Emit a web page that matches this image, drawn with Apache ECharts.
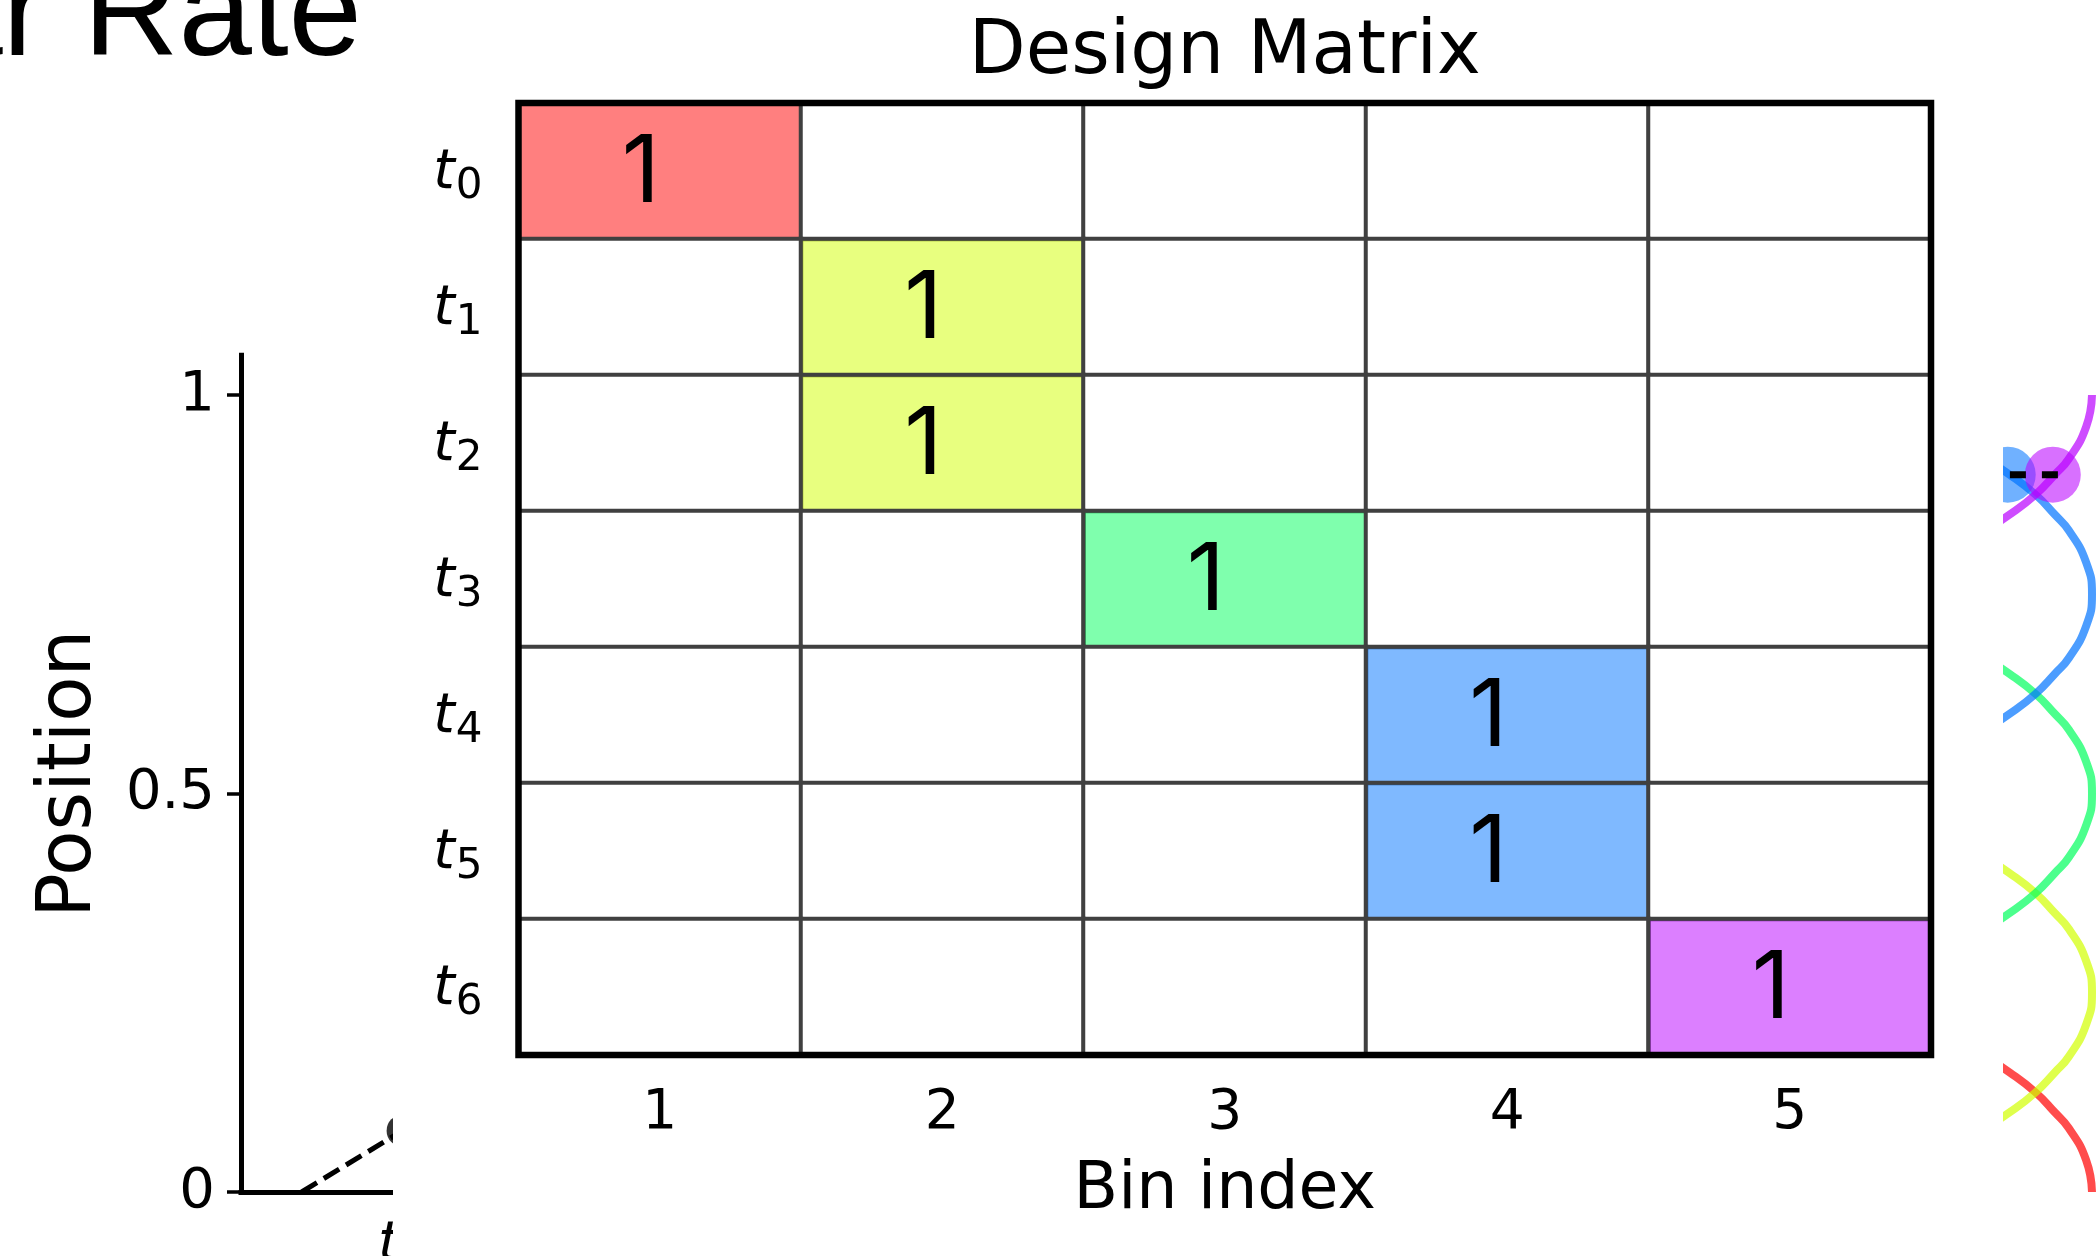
<!DOCTYPE html>
<html>
<head>
<meta charset="utf-8">
<style>
  html, body { margin: 0; padding: 0; background: #fff; }
  #chart { width: 2096px; height: 1256px; }
</style>
<script src="https://cdn.jsdelivr.net/npm/echarts@6/dist/echarts.min.js"></script>
</head>
<body>
<div id="chart"></div>
<script>
// ---- Design matrix: one row per sample time, one column per position bin ----
const binLabels = ['1', '2', '3', '4', '5'];
const timeLabels = ['0', '1', '2', '3', '4', '5', '6'];
const activeBin = [1, 2, 2, 3, 4, 4, 5];          // bin occupied at each sample time

// ---- Trajectory panel (position against time) ----
const trajectory = [[0.6, 0], [1.6, 0.077]];
const sampleTimes = [1.6];
const samplePositions = [0.077];
const positionTicks = [0, 0.5, 1];

// ---- Rate curves per bin, points as [rate, position] ----
const rateBin1 = [[1, 0], [0.985, 0.04], [0.941, 0.08], [0.905, 0.1], [0.856, 0.125], [0.79, 0.15], [0.64, 0.2]];
const rateBin2 = [[0.64, 0.05], [0.79, 0.1], [0.856, 0.125], [0.905, 0.15], [0.941, 0.17], [0.985, 0.21], [1, 0.25],
                  [0.985, 0.29], [0.941, 0.33], [0.905, 0.35], [0.856, 0.375], [0.79, 0.4], [0.64, 0.45]];
const rateBin3 = [[0.64, 0.3], [0.79, 0.35], [0.856, 0.375], [0.905, 0.4], [0.941, 0.42], [0.985, 0.46], [1, 0.5],
                  [0.985, 0.54], [0.941, 0.58], [0.905, 0.6], [0.856, 0.625], [0.79, 0.65], [0.64, 0.7]];
const rateBin4 = [[0.64, 0.55], [0.79, 0.6], [0.856, 0.625], [0.905, 0.65], [0.941, 0.67], [0.985, 0.71], [1, 0.75],
                  [0.985, 0.79], [0.941, 0.83], [0.905, 0.85], [0.856, 0.875], [0.79, 0.9], [0.64, 0.95]];
const rateBin5 = [[0.64, 0.8], [0.79, 0.85], [0.856, 0.875], [0.905, 0.9], [0.941, 0.92], [0.985, 0.96], [1, 1]];
const rateCurves = [rateBin1, rateBin2, rateBin3, rateBin4, rateBin5];

const currentPosition = 0.9;
const currentBins = [4, 5];
const currentRates = [0.785, 0.9];
const positionLine = [[0.913, 0.9], [0, 0.9]];

// ---- styling ----
const binRGB = ['255,0,0', '209,255,0', '0,255,92', '0,116,255', '185,0,255'];
const FONT = 'DejaVu Sans';
const HELV = 'Liberation Sans';
const CELL_FONT = 'Inter';
const tRich = {
  t: { fontFamily: FONT, fontStyle: 'italic', fontSize: 55, color: '#000', padding: [6, 0, 0, 0] },
  s: { fontFamily: FONT, fontSize: 42, color: '#000', padding: [32, 0, 0, 1] }
};

// build heatmap cells from the occupied bins
const matrixData = [];
timeLabels.forEach((t, ti) => {
  binLabels.forEach((b, bi) => {
    const v = activeBin[ti] === bi + 1 ? 1 : 0;
    matrixData.push({
      value: [bi, ti, v],
      itemStyle: { color: v ? 'rgba(' + binRGB[bi] + ',0.5)' : '#ffffff' },
      label: { show: v > 0 }
    });
  });
});

const chart = echarts.init(document.getElementById('chart'), null, { renderer: 'canvas' });

const curveSeries = rateCurves.map((pts, i) => ({
  type: 'line',
  xAxisIndex: 2, yAxisIndex: 2,
  data: pts,
  smooth: 0.5,
  showSymbol: false,
  silent: true,
  z: 2,
  lineStyle: { color: 'rgba(' + binRGB[i] + ',0.7)', width: 8 }
}));

const option = {
  animation: false,
  backgroundColor: '#fff',
  title: [
    {
      text: 'ar Rate',
      left: 362, top: -47, padding: 0,
      textAlign: 'right', textVerticalAlign: 'top',
      textStyle: { fontFamily: HELV, fontSize: 132, fontWeight: 'normal', color: '#000' }
    },
    {
      text: 'Design Matrix',
      left: 1224.75, top: 17, padding: 0, z: 20,
      textAlign: 'center', textVerticalAlign: 'top',
      textStyle: { fontFamily: FONT, fontSize: 74, fontWeight: 'normal', color: '#000' }
    }
  ],
  graphic: {
    elements: [
      { type: 'rect', silent: true, z: 5,
        shape: { x: 393, y: 0, width: 1610, height: 1256 },
        style: { fill: '#ffffff' } }
    ]
  },
  grid: [
    { left: 518.5, top: 103, width: 1412.5, height: 952, show: true, z: 14,
      borderColor: '#000', borderWidth: 6.5, backgroundColor: 'rgba(0,0,0,0)', outerBoundsMode: 'none' },
    { left: 241, top: 355.15, width: 808, height: 836.85, outerBoundsMode: 'none' },
    { left: 1700, top: 395, width: 392, height: 797, outerBoundsMode: 'none' }
  ],
  xAxis: [
    {
      gridIndex: 0, type: 'category', data: binLabels, z: 12,
      axisLine: { show: false },
      axisTick: { alignWithLabel: true, length: 15, lineStyle: { color: '#000', width: 3 } },
      axisLabel: { fontFamily: FONT, fontSize: 55, color: '#000', margin: 31 },
      splitLine: { show: false },
      name: 'Bin index', nameLocation: 'middle', nameGap: 104,
      nameTextStyle: { fontFamily: FONT, fontSize: 65, color: '#000' }
    },
    {
      gridIndex: 1, type: 'value', min: 0, max: 8,
      axisLine: { show: true, lineStyle: { color: '#000', width: 5, cap: 'square' } },
      axisTick: { show: true, customValues: sampleTimes, length: 14, lineStyle: { color: '#000', width: 3 } },
      axisLabel: {
        customValues: sampleTimes, margin: 14, rich: tRich,
        formatter: v => '{t|t}{s|' + sampleTimes.indexOf(v) + '}'
      },
      splitLine: { show: false }
    },
    { gridIndex: 2, type: 'value', min: 0, max: 1, show: false }
  ],
  yAxis: [
    {
      gridIndex: 0, type: 'category', data: timeLabels, inverse: true, z: 12,
      axisLine: { show: false },
      axisTick: { alignWithLabel: true, length: 15, lineStyle: { color: '#000', width: 3 } },
      axisLabel: { margin: 36, rich: tRich, formatter: v => '{t|t}{s|' + v + '}' },
      splitLine: { show: false }
    },
    {
      gridIndex: 1, type: 'value', min: 0, max: 1.05,
      axisLine: { show: true, lineStyle: { color: '#000', width: 5, cap: 'square' } },
      axisTick: { show: true, customValues: positionTicks, length: 14, lineStyle: { color: '#000', width: 3.5 } },
      axisLabel: { customValues: positionTicks, fontFamily: FONT, fontSize: 56, color: '#000', margin: 26 },
      splitLine: { show: false },
      name: 'Position', nameLocation: 'middle', nameGap: 133,
      nameTextStyle: { fontFamily: FONT, fontSize: 74, color: '#000' }
    },
    { gridIndex: 2, type: 'value', min: 0, max: 1, show: false }
  ],
  series: [
    // position trajectory and its first sample
    {
      type: 'line', xAxisIndex: 1, yAxisIndex: 1, data: trajectory,
      showSymbol: false, silent: true, z: 2,
      lineStyle: { color: '#000', width: 5, type: [18, 8] }
    },
    {
      type: 'scatter', xAxisIndex: 1, yAxisIndex: 1, silent: true, z: 3,
      data: sampleTimes.map((t, i) => [t, samplePositions[i]]),
      symbolSize: 32, itemStyle: { color: '#000' }
    },
    // rate curves
    ...curveSeries,
    {
      type: 'scatter', xAxisIndex: 2, yAxisIndex: 2, silent: true, z: 3,
      symbolSize: 56,
      data: currentBins.map((b, i) => ({
        value: [currentRates[i], currentPosition],
        itemStyle: { color: 'rgba(' + binRGB[b - 1] + ',0.7)' }
      }))
    },
    {
      type: 'line', xAxisIndex: 2, yAxisIndex: 2, data: positionLine,
      showSymbol: false, silent: true, z: 4,
      lineStyle: { color: '#000', width: 7, type: [16, 16] }
    },
    // design matrix
    {
      type: 'heatmap', xAxisIndex: 0, yAxisIndex: 0, data: matrixData, z: 10,
      silent: true,
      itemStyle: { borderColor: '#404040', borderWidth: 4 },
      label: {
        show: true,
        offset: [-19, 3],
        formatter: p => '{v|' + p.value[2] + '}',
        rich: { v: { color: '#000', fontFamily: CELL_FONT, fontSize: 94 } }
      },
      emphasis: { disabled: true }
    }
  ]
};

chart.setOption(option);
</script>
</body>
</html>
